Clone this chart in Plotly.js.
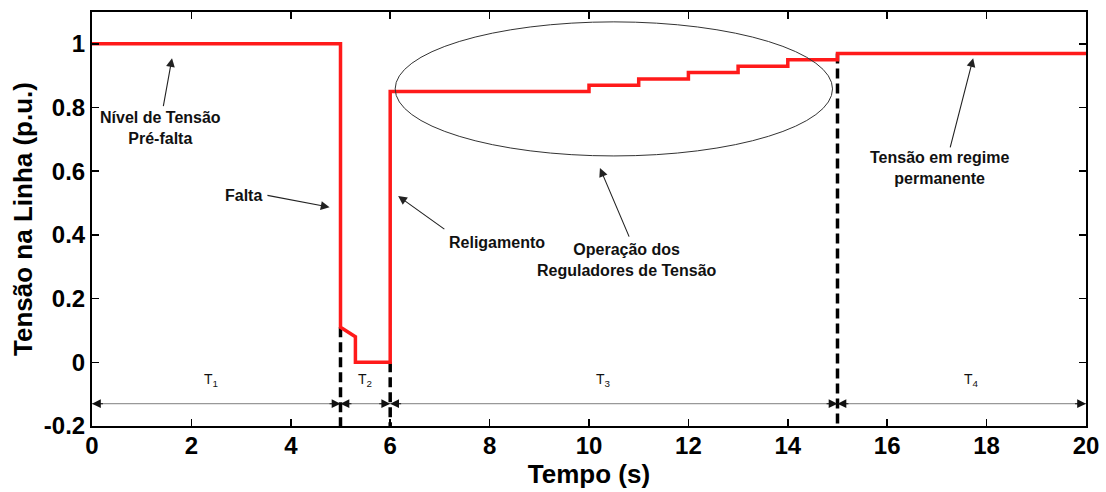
<!DOCTYPE html>
<html>
<head>
<meta charset="utf-8">
<script src="https://cdn.plot.ly/plotly-3.0.1.min.js"></script>
<style>html,body{margin:0;padding:0;background:#fff;}#chart{width:1106px;height:492px;}</style>
</head>
<body>
<div id="chart"></div>
<script>
// Voltage profile (step line)
var time = [0, 5, 5, 5.3, 5.3, 6, 6, 10, 10, 11, 11, 12, 12, 13, 13, 14, 14, 15, 15, 20];
var voltage = [1, 1, 0.11, 0.08, 0, 0, 0.85, 0.85, 0.87, 0.87, 0.89, 0.89, 0.91, 0.91, 0.93, 0.93, 0.95, 0.95, 0.97, 0.97];

// Dashed event markers (fault, reclosing, steady state)
var eventTimes = [5, 6, 15];
var eventTopValues = [0.11, 0, 0.97];
var axisBottom = -0.2;

// Interval labels
var intervalNames = ["T<sub>1</sub>", "T<sub>2</sub>", "T<sub>3</sub>", "T<sub>4</sub>"];
var intervalBounds = [0, 5, 6, 15, 20];
var intervalLabelX = [2.4, 5.5, 10.3, 17.7];
var intervalLineY = -0.13;

// Axis ticks
var xTicks = [0, 2, 4, 6, 8, 10, 12, 14, 16, 18, 20];
var yTicks = [-0.2, 0, 0.2, 0.4, 0.6, 0.8, 1];
var yTickLabels = ["-0.2", "0", "0.2", "0.4", "0.6", "0.8", "1"];

// Callout texts: label, text position, arrow tail, arrow head
var calloutTexts = ["Nível de Tensão<br>Pré-falta", "Falta", "Religamento", "Operação dos<br>Reguladores de Tensão", "Tensão em regime<br>permanente"];
var calloutTextX = [1.37, 3.04, 8.15, 10.76, 17.06];
var calloutTextY = [0.735, 0.525, 0.377, 0.32, 0.61];
var arrowTailX = [1.43, 3.5, 7.12, 10.82, 17.26];
var arrowTailY = [0.80, 0.525, 0.415, 0.39, 0.67];
var arrowHeadX = [1.61, 4.78, 6.16, 10.22, 17.73];
var arrowHeadY = [0.955, 0.487, 0.522, 0.61, 0.955];

// Regulator operation ellipse
var ellipseX = [6.1, 14.9];
var ellipseY = [0.648, 1.069];

var FONT = '"Liberation Sans", Arial, Helvetica, sans-serif';

var traces = [];
eventTimes.forEach(function (t, i) {
  traces.push({
    x: [t, t], y: [eventTopValues[i], axisBottom],
    mode: 'lines', type: 'scatter', hoverinfo: 'skip',
    line: {color: '#000', width: 3.5, dash: '10px,5px'}
  });
});
traces.push({
  x: time, y: voltage, mode: 'lines', type: 'scatter',
  line: {color: '#ff1a1a', width: 3.5}
});

var annotations = [];
for (var i = 0; i < calloutTexts.length; i++) {
  annotations.push({
    x: calloutTextX[i], y: calloutTextY[i], xref: 'x', yref: 'y',
    text: calloutTexts[i], showarrow: false,
    font: {family: FONT, size: 16, weight: 'bold', color: '#111'}
  });
  annotations.push({
    x: arrowHeadX[i], y: arrowHeadY[i], ax: arrowTailX[i], ay: arrowTailY[i],
    xref: 'x', yref: 'y', axref: 'x', ayref: 'y', text: '',
    showarrow: true, arrowhead: 2, arrowsize: 1.6, arrowwidth: 1.1, arrowcolor: '#222'
  });
}
for (var k = 0; k < intervalNames.length; k++) {
  annotations.push({
    x: intervalLabelX[k], y: -0.055, xref: 'x', yref: 'y',
    text: intervalNames[k], showarrow: false,
    font: {family: FONT, size: 14, color: '#111'}
  });
  var a = intervalBounds[k], b = intervalBounds[k + 1];
  var d = Math.min(0.25, (b - a) / 4);
  annotations.push({
    x: a, y: intervalLineY, ax: a + d, ay: intervalLineY,
    xref: 'x', yref: 'y', axref: 'x', ayref: 'y', text: '',
    showarrow: true, arrowhead: 2, arrowsize: 1.6, arrowwidth: 1.1, arrowcolor: '#111'
  });
  annotations.push({
    x: b, y: intervalLineY, ax: b - d, ay: intervalLineY,
    xref: 'x', yref: 'y', axref: 'x', ayref: 'y', text: '',
    showarrow: true, arrowhead: 2, arrowsize: 1.6, arrowwidth: 1.1, arrowcolor: '#111'
  });
}

var shapes = [
  {type: 'line', xref: 'x', yref: 'y', x0: intervalBounds[0], x1: intervalBounds[intervalBounds.length - 1],
   y0: intervalLineY, y1: intervalLineY, line: {color: '#999', width: 1.2}, layer: 'below'},
  {type: 'circle', xref: 'x', yref: 'y', x0: ellipseX[0], x1: ellipseX[1], y0: ellipseY[0], y1: ellipseY[1],
   line: {color: '#333', width: 1}}
];

var layout = {
  width: 1106, height: 492,
  margin: {l: 92, r: 20, t: 12, b: 66},
  paper_bgcolor: '#fff', plot_bgcolor: '#fff',
  showlegend: false,
  font: {family: FONT, color: '#000'},
  xaxis: {
    range: [0, 20], tickvals: xTicks, ticktext: xTicks.map(String),
    showgrid: false, zeroline: false, showline: true, linecolor: '#000', linewidth: 2,
    mirror: 'ticks', ticks: 'inside', ticklen: 7, tickwidth: 1.5, tickcolor: '#000',
    ticklabelstandoff: -3,
    tickfont: {family: FONT, size: 24, weight: 'bold', color: '#000'},
    title: {text: 'Tempo (s)', font: {family: FONT, size: 26, weight: 'bold', color: '#000'}, standoff: 0}
  },
  yaxis: {
    range: [-0.2, 1.1], tickvals: yTicks, ticktext: yTickLabels,
    showgrid: false, zeroline: false, showline: true, linecolor: '#000', linewidth: 2,
    mirror: 'ticks', ticks: 'inside', ticklen: 7, tickwidth: 1.5, tickcolor: '#000',
    tickfont: {family: FONT, size: 24, weight: 'bold', color: '#000'},
    title: {text: 'Tensão na Linha (p.u.)', font: {family: FONT, size: 26, weight: 'bold', color: '#000'}, standoff: 4}
  },
  shapes: shapes,
  annotations: annotations
};

Plotly.newPlot('chart', traces, layout, {displayModeBar: false, staticPlot: true});
</script>
</body>
</html>
